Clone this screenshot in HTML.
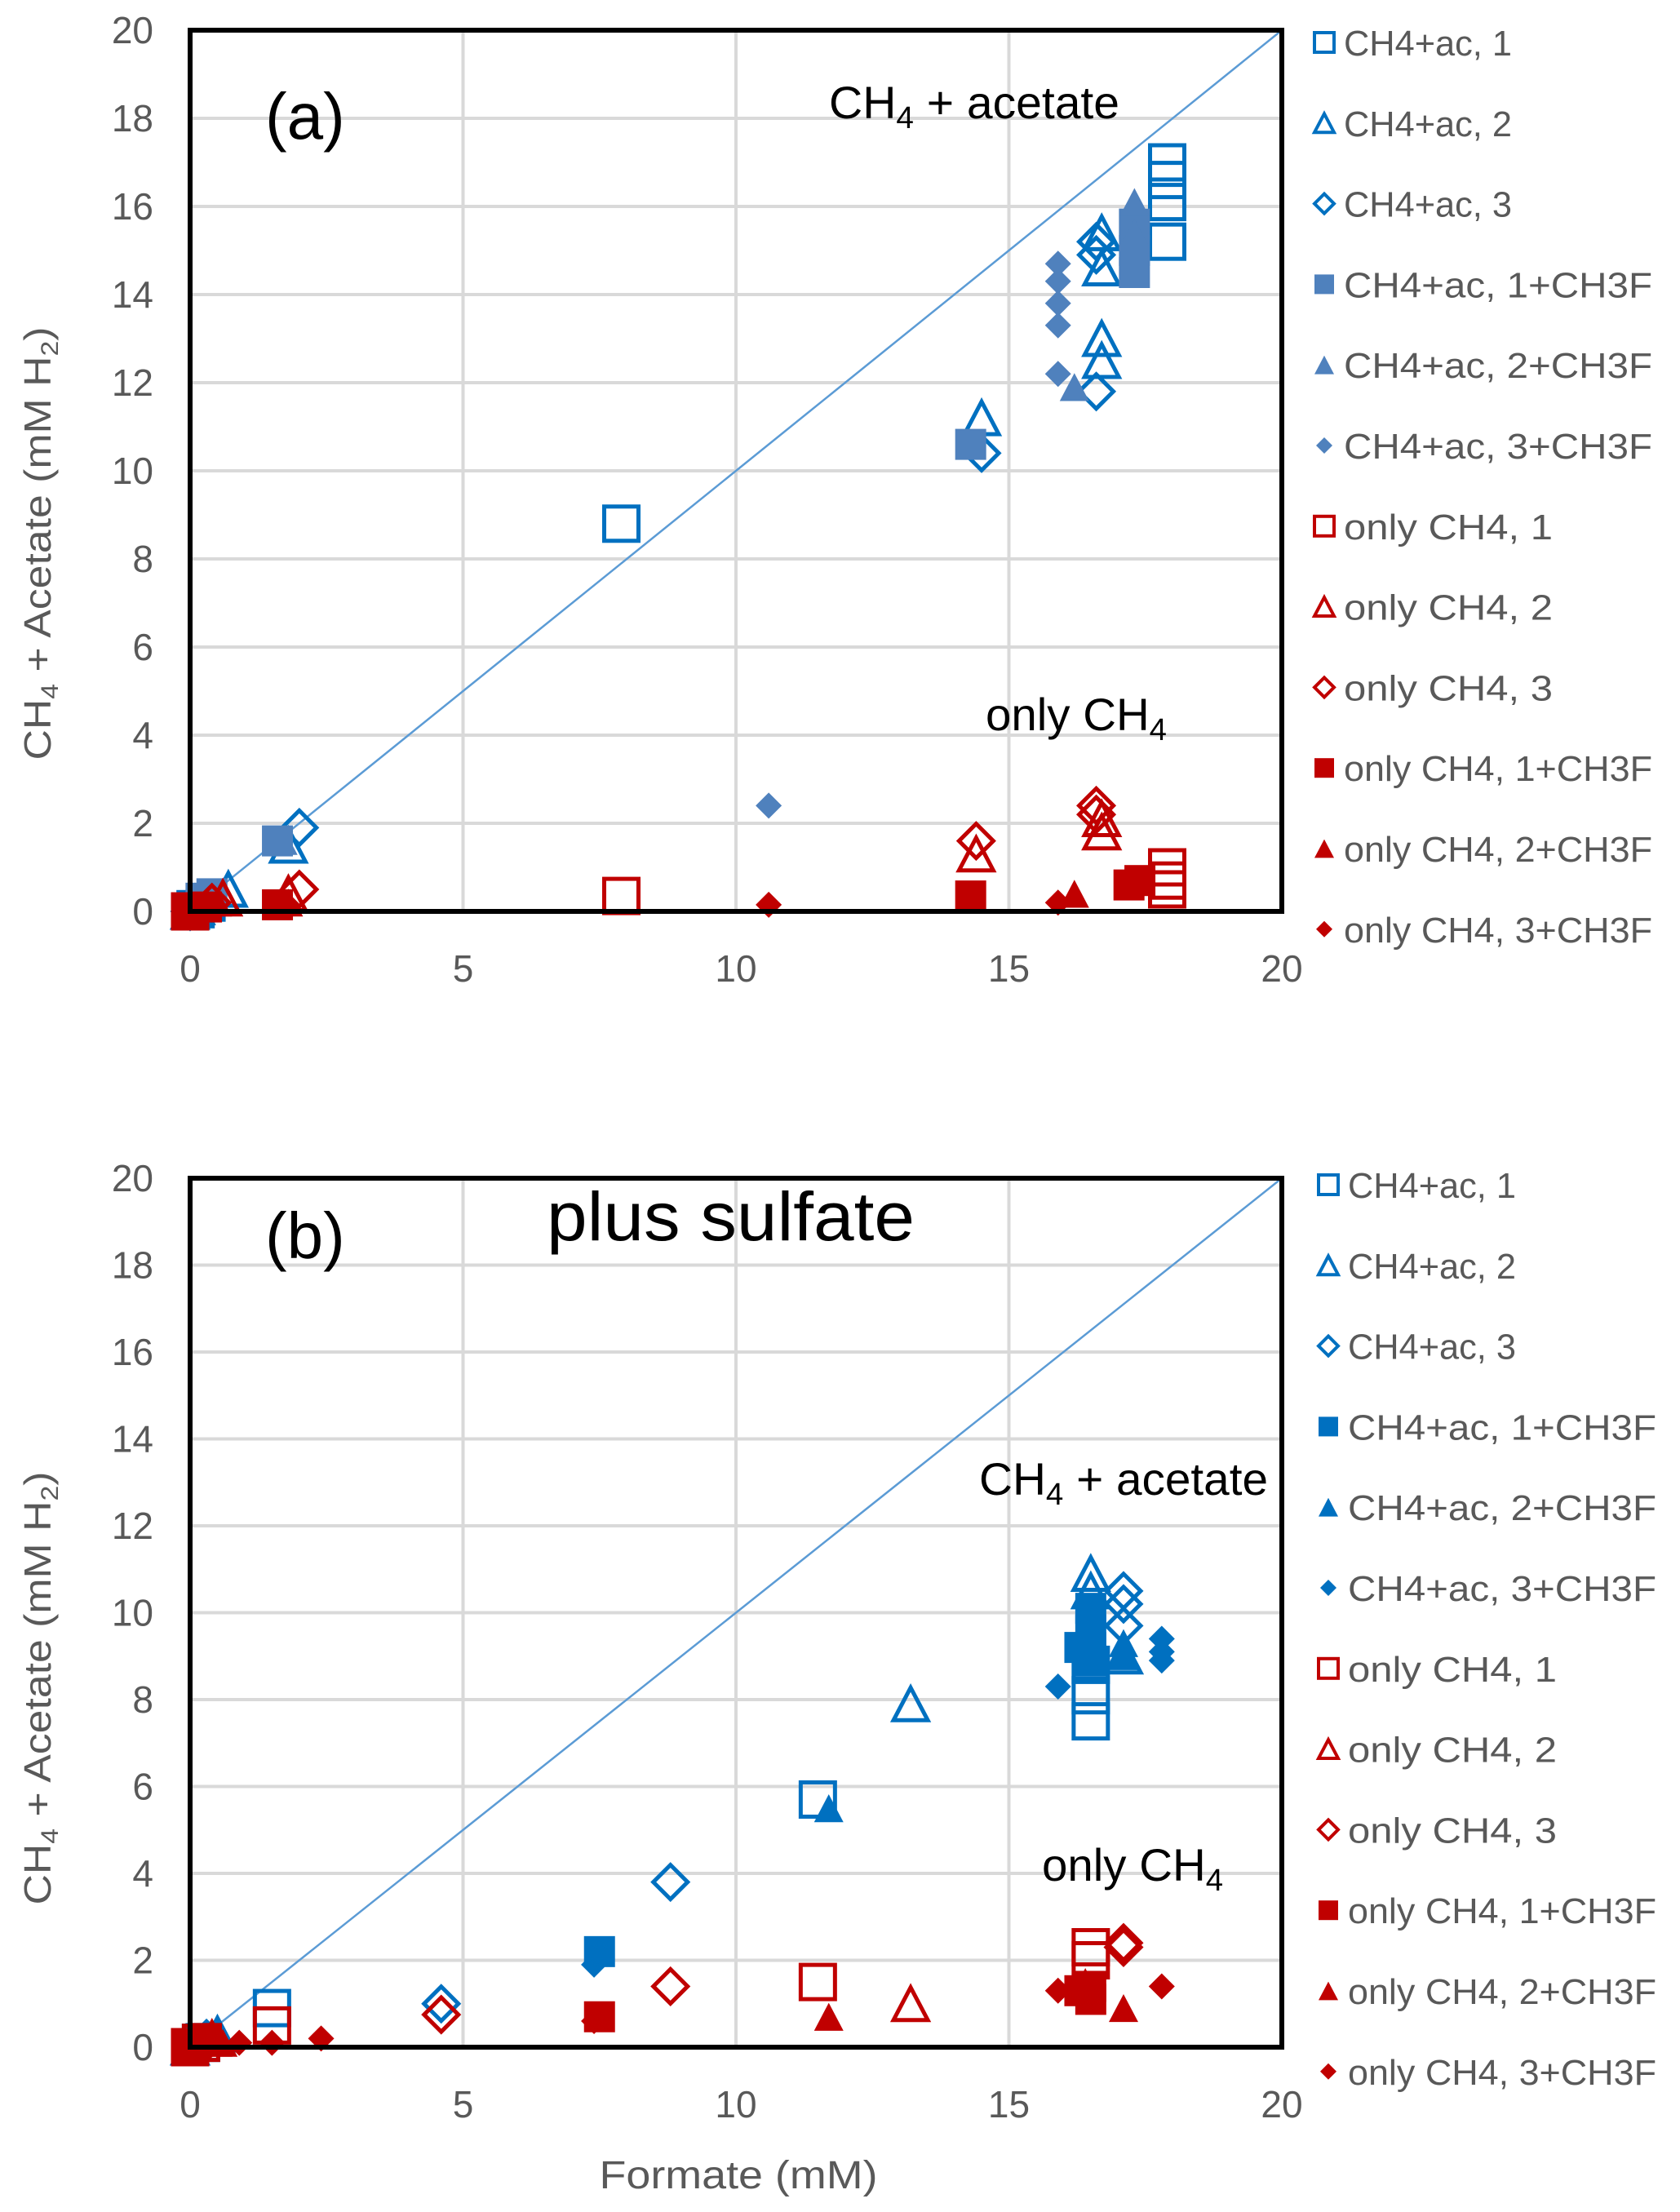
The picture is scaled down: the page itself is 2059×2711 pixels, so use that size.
<!DOCTYPE html>
<html><head><meta charset="utf-8"><style>
html,body{margin:0;padding:0;background:#fff}
svg{display:block}
text{font-family:"Liberation Sans",sans-serif}
</style></head><body>
<svg id="fig" width="2059" height="2711" viewBox="0 0 2059 2711" xmlns="http://www.w3.org/2000/svg"></svg>
<script>
// ---- axis ticks ----
const xTicks = [0, 5, 10, 15, 20];
const yTicks = [0, 2, 4, 6, 8, 10, 12, 14, 16, 18, 20];
const seriesNames = ["CH4+ac, 1","CH4+ac, 2","CH4+ac, 3","CH4+ac, 1+CH3F","CH4+ac, 2+CH3F","CH4+ac, 3+CH3F",
  "only CH4, 1","only CH4, 2","only CH4, 3","only CH4, 1+CH3F","only CH4, 2+CH3F","only CH4, 3+CH3F"];

// ---- panel (a) data ----
const a_ac1_x = [0, 0.1, 0.3, 7.9, 17.9, 17.9, 17.9, 17.9];
const a_ac1_y = [0, 0.05, 0.2, 8.8, 17.0, 16.6, 16.1, 15.2];
const a_ac2_x = [0, 0.1, 0.7, 1.8, 14.5, 16.7, 16.7, 16.7, 16.7];
const a_ac2_y = [0, 0.1, 0.5, 1.5, 11.2, 13.0, 12.5, 14.6, 15.4];
const a_ac3_x = [0, 0.2, 2.0, 14.5, 16.6, 16.6, 16.6];
const a_ac3_y = [0, 0.2, 1.9, 10.4, 11.8, 15.2, 14.9];
const a_ac1f_x = [0.2, 0.4, 1.6, 14.3, 17.3, 17.3, 17.3];
const a_ac1f_y = [0.3, 0.4, 1.6, 10.6, 15.6, 15.0, 14.5];
const a_ac2f_x = [0.3, 1.7, 16.2, 17.3, 17.3];
const a_ac2f_y = [0.3, 1.6, 11.9, 16.1, 15.4];
const a_ac3f_x = [0.1, 1.6, 10.6, 15.9, 15.9, 15.9, 15.9, 15.9];
const a_ac3f_y = [0.1, 1.6, 2.4, 14.7, 14.3, 13.8, 13.3, 12.2];
const a_m1_x = [0, 7.9, 17.9, 17.9, 17.9];
const a_m1_y = [0, 0.35, 1.0, 0.7, 0.5];
const a_m2_x = [0.6, 1.8, 14.4, 16.7, 16.7];
const a_m2_y = [0.3, 0.4, 1.3, 1.8, 2.1];
const a_m3_x = [0.4, 2.0, 14.4, 16.6, 16.6];
const a_m3_y = [0.2, 0.5, 1.6, 2.4, 2.2];
const a_m1f_x = [0, 0.3, 1.6, 14.3, 17.2, 17.4];
const a_m1f_y = [0, 0.1, 0.15, 0.35, 0.6, 0.7];
const a_m2f_x = [0.5, 1.8, 16.2];
const a_m2f_y = [0.2, 0.2, 0.4];
const a_m3f_x = [0.2, 10.6, 15.9];
const a_m3f_y = [0.1, 0.15, 0.2];

// ---- panel (b) data ----
const b_ac1_x = [0, 0.2, 1.5, 11.5, 16.5, 16.5, 16.5];
const b_ac1_y = [0, 0.1, 0.9, 5.7, 7.5, 8.1, 8.8];
const b_ac2_x = [0, 0.5, 13.2, 16.5, 16.5, 17.1];
const b_ac2_y = [0, 0.3, 7.9, 10.9, 10.5, 9.0];
const b_ac3_x = [0.3, 4.6, 8.8, 17.1, 17.1, 17.1];
const b_ac3_y = [0.2, 1.0, 3.8, 10.5, 10.2, 9.7];
const b_ac1f_x = [0.2, 7.5, 16.5, 16.5, 16.5, 16.3, 16.5];
const b_ac1f_y = [0.2, 2.2, 10.1, 9.6, 9.2, 9.2, 8.9];
const b_ac2f_x = [0.5, 11.7, 17.1, 17.1];
const b_ac2f_y = [0.3, 5.5, 9.3, 9.0];
const b_ac3f_x = [0.1, 7.4, 15.9, 17.8, 17.8, 17.8];
const b_ac3f_y = [0.1, 1.9, 8.3, 9.4, 9.1, 8.9];
const b_m1_x = [0, 0.2, 1.5, 11.5, 16.5, 16.5];
const b_m1_y = [0, 0.1, 0.5, 1.5, 2.3, 2.0];
const b_m2_x = [0.4, 13.2];
const b_m2_y = [0.2, 1.0];
const b_m3_x = [0.3, 4.6, 8.8, 17.1, 17.1];
const b_m3_y = [0.1, 0.75, 1.4, 2.4, 2.3];
const b_m1f_x = [0, 0.3, 7.5, 16.5, 16.5, 16.3];
const b_m1f_y = [0, 0.2, 0.7, 1.4, 1.1, 1.3];
const b_m2f_x = [0.6, 11.7, 17.1, 16.4];
const b_m2f_y = [0.1, 0.7, 0.9, 1.5];
const b_m3f_x = [0.9, 1.5, 2.4, 7.4, 15.9, 16.2, 17.8];
const b_m3f_y = [0.1, 0.1, 0.2, 0.6, 1.3, 1.3, 1.4];

const NS = "http://www.w3.org/2000/svg";
const svg = document.getElementById("fig");
function mk(tag, parent, attrs) {
  const e = document.createElementNS(NS, tag);
  for (const k in attrs) e.setAttribute(k, attrs[k]);
  parent.appendChild(e);
  return e;
}
const BLUE = "#0070C0", RED = "#C00000";

function marker(g, shape, filled, color, cx, cy, s) {
  let el;
  const fill = filled ? color : "none";
  const sw = filled ? 0 : 5;
  if (shape === "sq") {
    el = mk("rect", g, {x: cx - s/2, y: cy - s/2, width: s, height: s, fill: fill, stroke: color, "stroke-width": sw});
  } else if (shape === "tri") {
    const h = s * 0.95;
    el = mk("polygon", g, {points: `${cx},${cy - h/2} ${cx + s/2},${cy + h/2} ${cx - s/2},${cy + h/2}`, fill: fill, stroke: color, "stroke-width": sw, "stroke-linejoin": "miter"});
  } else {
    el = mk("polygon", g, {points: `${cx},${cy - s/2} ${cx + s/2},${cy} ${cx},${cy + s/2} ${cx - s/2},${cy}`, fill: fill, stroke: color, "stroke-width": sw});
  }
  return el;
}

function panel(cfg) {
  const L = 233, R = 1571, T = cfg.top, B = cfg.bottom;
  const xs = v => L + (v / 20) * (R - L);
  const ys = v => B - (v / 20) * (B - T);
  const g = mk("g", svg, {});
  
  
  xTicks.forEach(t => {
    if (t === 0 || t === 20) return;
    const l = mk("line", g, {x1: xs(t), x2: xs(t), y1: T, y2: B, stroke: "#d9d9d9", "stroke-width": 4});
    
    
  });
  yTicks.forEach(t => {
    if (t === 0 || t === 20) return;
    const l = mk("line", g, {x1: L, x2: R, y1: ys(t), y2: ys(t), stroke: "#d9d9d9", "stroke-width": 4});
    
    
  });
  yTicks.forEach(t => {
    const tx = mk("text", g, {x: 188, y: ys(t) + 16, "text-anchor": "end", "font-size": 46, fill: "#595959"});
    tx.textContent = t;
    
    
  });
  xTicks.forEach(t => {
    const tx = mk("text", g, {x: xs(t), y: B + 86, "text-anchor": "middle", "font-size": 46, fill: "#595959"});
    tx.textContent = t;
    
    
  });
  const yt = mk("text", g, {transform: `translate(62,${cfg.ytc}) rotate(-90)`, "text-anchor": "middle", "font-size": 46, fill: "#595959", "font-family": "DejaVu Sans, sans-serif", textLength: 531, lengthAdjust: "spacingAndGlyphs"});
  yt.innerHTML = 'CH<tspan font-size="30" dy="9">4</tspan><tspan dy="-9"> + Acetate (mM H</tspan><tspan font-size="30" dy="9">2</tspan><tspan dy="-9">)</tspan>';
  
  
  const d = mk("line", g, {x1: xs(0), y1: ys(0), x2: xs(20), y2: ys(20), stroke: "#5B9BD5", "stroke-width": 2.5});
  
  
  cfg.series.forEach((s, i) => {
    const sg = mk("g", g, {});
    
    
    for (let k = 0; k < s.x.length; k++) {
      const size = s.filled ? (s.shape === "dia" ? 32 : (s.shape === "tri" ? 36 : 38)) : 42;
      const m = marker(sg, s.shape, s.filled, s.color, xs(s.x[k]), ys(s.y[k]), size);
      
      
    }
  });
  const f = mk("rect", g, {x: L, y: T, width: R - L, height: B - T, fill: "none", stroke: "#000", "stroke-width": 6});
  
  
  cfg.series.forEach((s, i) => {
    const ly = cfg.legTop + i * 98.8;
    const lg = mk("g", g, {});
    
    
    marker(lg, s.shape, s.filled, s.color, cfg.legX, ly, s.filled ? (s.shape === "dia" ? 20 : 24) : 24).setAttribute("stroke-width", s.filled ? 0 : 4);
    const t = mk("text", lg, {x: cfg.legX + 24, y: ly + 16, "font-size": 44, fill: "#595959", textLength: s.name.length > 12 ? 378 : (s.name.length > 10 ? 256 : 206), lengthAdjust: "spacingAndGlyphs"});
    t.textContent = s.name;
  });
  return {xs, ys, g};
}

function S(x, y, shape, filled, color, name) { return {x, y, shape, filled, color, name}; }
const SB = "#4F81BD";
const pa = panel({name: "panel-a", top: 37, bottom: 1117, ytc: 666, legX: 1623, legTop: 52, series: [
  S(a_ac1_x, a_ac1_y, "sq", false, BLUE, seriesNames[0]),
  S(a_ac2_x, a_ac2_y, "tri", false, BLUE, seriesNames[1]),
  S(a_ac3_x, a_ac3_y, "dia", false, BLUE, seriesNames[2]),
  S(a_ac1f_x, a_ac1f_y, "sq", true, SB, seriesNames[3]),
  S(a_ac2f_x, a_ac2f_y, "tri", true, SB, seriesNames[4]),
  S(a_ac3f_x, a_ac3f_y, "dia", true, SB, seriesNames[5]),
  S(a_m1_x, a_m1_y, "sq", false, RED, seriesNames[6]),
  S(a_m2_x, a_m2_y, "tri", false, RED, seriesNames[7]),
  S(a_m3_x, a_m3_y, "dia", false, RED, seriesNames[8]),
  S(a_m1f_x, a_m1f_y, "sq", true, RED, seriesNames[9]),
  S(a_m2f_x, a_m2f_y, "tri", true, RED, seriesNames[10]),
  S(a_m3f_x, a_m3f_y, "dia", true, RED, seriesNames[11])
]});
const pb = panel({name: "panel-b", top: 1444, bottom: 2509, ytc: 2069, legX: 1628, legTop: 1452, series: [
  S(b_ac1_x, b_ac1_y, "sq", false, BLUE, seriesNames[0]),
  S(b_ac2_x, b_ac2_y, "tri", false, BLUE, seriesNames[1]),
  S(b_ac3_x, b_ac3_y, "dia", false, BLUE, seriesNames[2]),
  S(b_ac1f_x, b_ac1f_y, "sq", true, BLUE, seriesNames[3]),
  S(b_ac2f_x, b_ac2f_y, "tri", true, BLUE, seriesNames[4]),
  S(b_ac3f_x, b_ac3f_y, "dia", true, BLUE, seriesNames[5]),
  S(b_m1_x, b_m1_y, "sq", false, RED, seriesNames[6]),
  S(b_m2_x, b_m2_y, "tri", false, RED, seriesNames[7]),
  S(b_m3_x, b_m3_y, "dia", false, RED, seriesNames[8]),
  S(b_m1f_x, b_m1f_y, "sq", true, RED, seriesNames[9]),
  S(b_m2f_x, b_m2f_y, "tri", true, RED, seriesNames[10]),
  S(b_m3f_x, b_m3f_y, "dia", true, RED, seriesNames[11])
]});

function ann(html, x, y, size, name, len) {
  const t = mk("text", svg, {x: x, y: y, "font-size": size, fill: "#000"});
  if (len) { t.setAttribute("textLength", len); t.setAttribute("lengthAdjust", "spacingAndGlyphs"); }
  t.innerHTML = html;
  
  
}
const CH4 = 'CH<tspan font-size="38" dy="12">4</tspan><tspan dy="-12">';
ann('(a)', 325, 170, 80, 'panel-a-label');
ann(CH4 + ' + acetate</tspan>', 1016, 145, 56, 'ch4-acetate-label-a', 356);
ann('only ' + CH4 + '</tspan>', 1208, 895, 56, 'only-ch4-label-a', 222);
ann('(b)', 325, 1542, 80, 'panel-b-label');
ann('plus sulfate', 670, 1520, 84, 'plus-sulfate-label', 451);
ann(CH4 + ' + acetate</tspan>', 1200, 1832, 56, 'ch4-acetate-label-b', 354);
ann('only ' + CH4 + '</tspan>', 1277, 2305, 56, 'only-ch4-label-b', 222);

const xt = mk("text", svg, {x: 905, y: 2682, "text-anchor": "middle", "font-size": 48, fill: "#595959", textLength: 341, lengthAdjust: "spacingAndGlyphs"});
xt.textContent = "Formate (mM)";


</script>
</body></html>
